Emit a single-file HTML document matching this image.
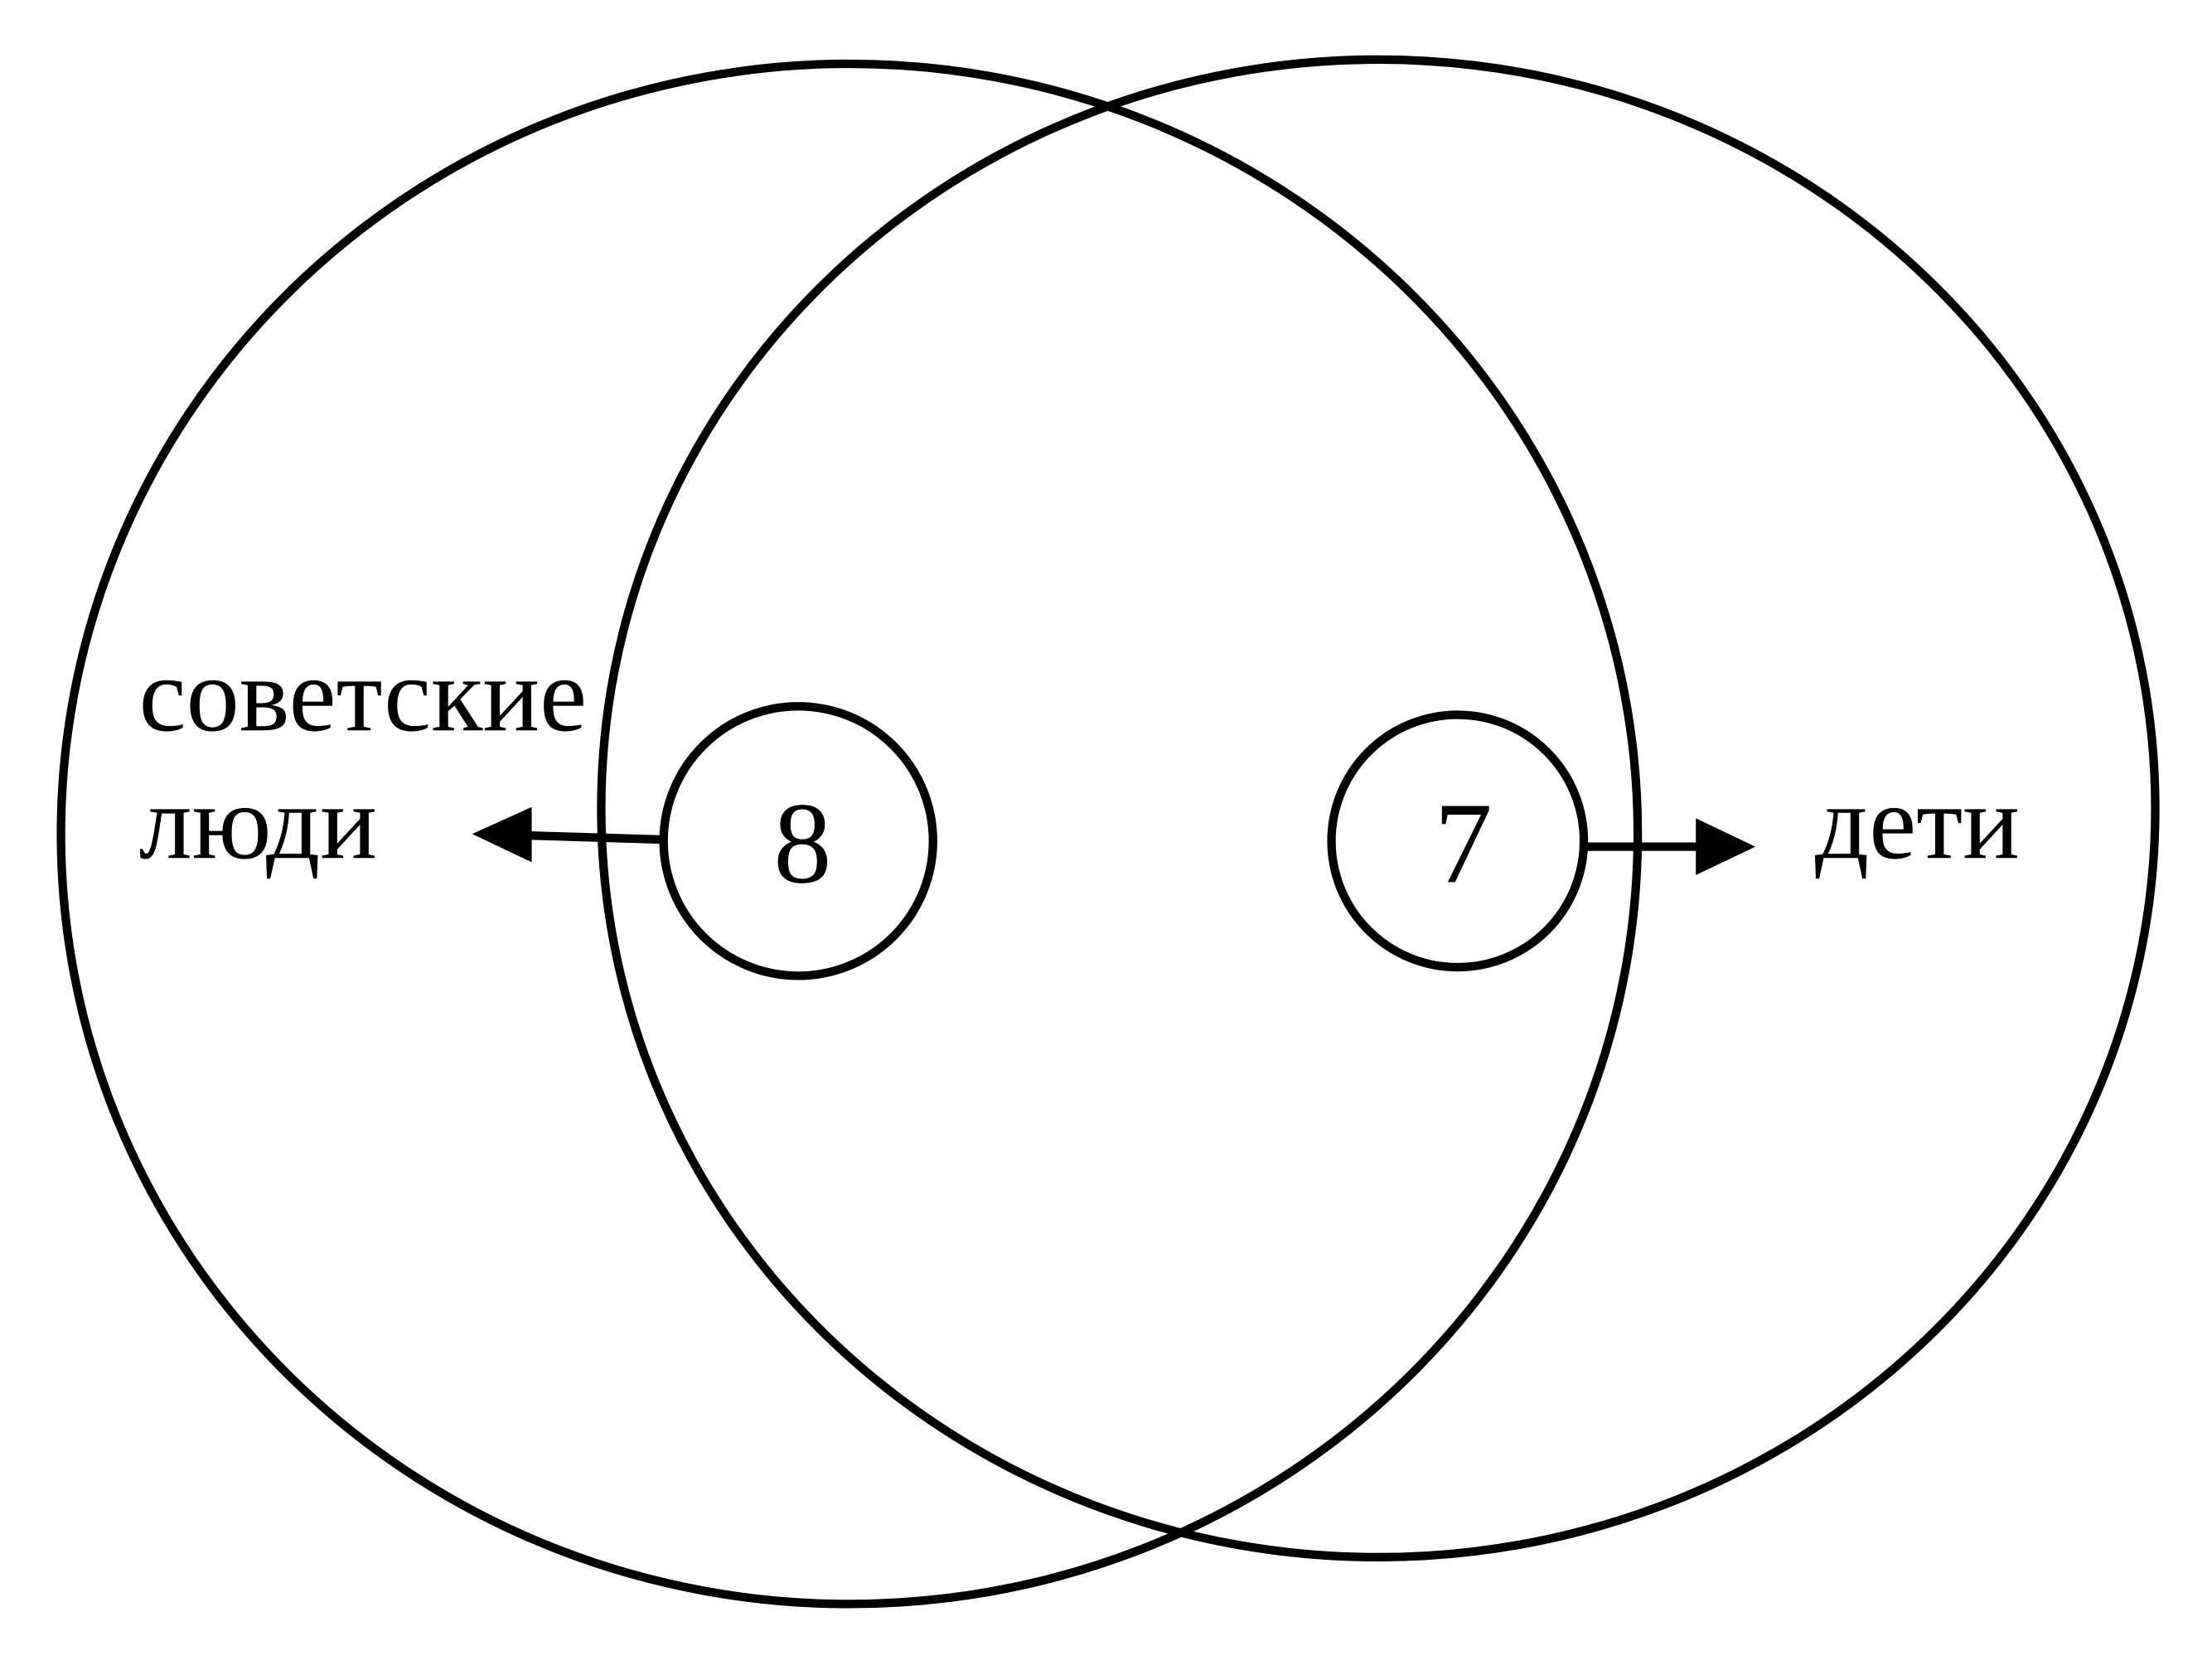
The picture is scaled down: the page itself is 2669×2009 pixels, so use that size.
<!DOCTYPE html>
<html><head><meta charset="utf-8"><style>html,body{margin:0;padding:0;background:#fff}svg{display:block}</style></head>
<body>
<svg width="2669" height="2009" viewBox="0 0 1560 1174" preserveAspectRatio="none" xmlns="http://www.w3.org/2000/svg">
<rect width="1560" height="1174" fill="#fff"/>
<g fill="none" stroke="#000" stroke-width="6">
<ellipse cx="599" cy="588" rx="556" ry="543"/>
<ellipse cx="972" cy="570" rx="548" ry="528"/>
<circle cx="563" cy="593" r="95"/>
<circle cx="1028" cy="593" r="89"/>
<line x1="467" y1="592" x2="370" y2="589"/>
<line x1="1118" y1="597" x2="1200" y2="597"/>
</g>
<polygon points="333,588 375,569 375,608" fill="#000"/>
<polygon points="1238,597 1196,577 1196,617" fill="#000"/>
<g font-family="'Liberation Serif', serif" font-size="75" fill="#000">
<text x="98" y="515">советские</text>
<text x="98" y="605">люди</text>
<text x="1280" y="605">дети</text>
<text x="566" y="622" font-size="82" text-anchor="middle">8</text>
<text x="1032" y="622" font-size="82" text-anchor="middle">7</text>
</g>
</svg>
</body></html>
